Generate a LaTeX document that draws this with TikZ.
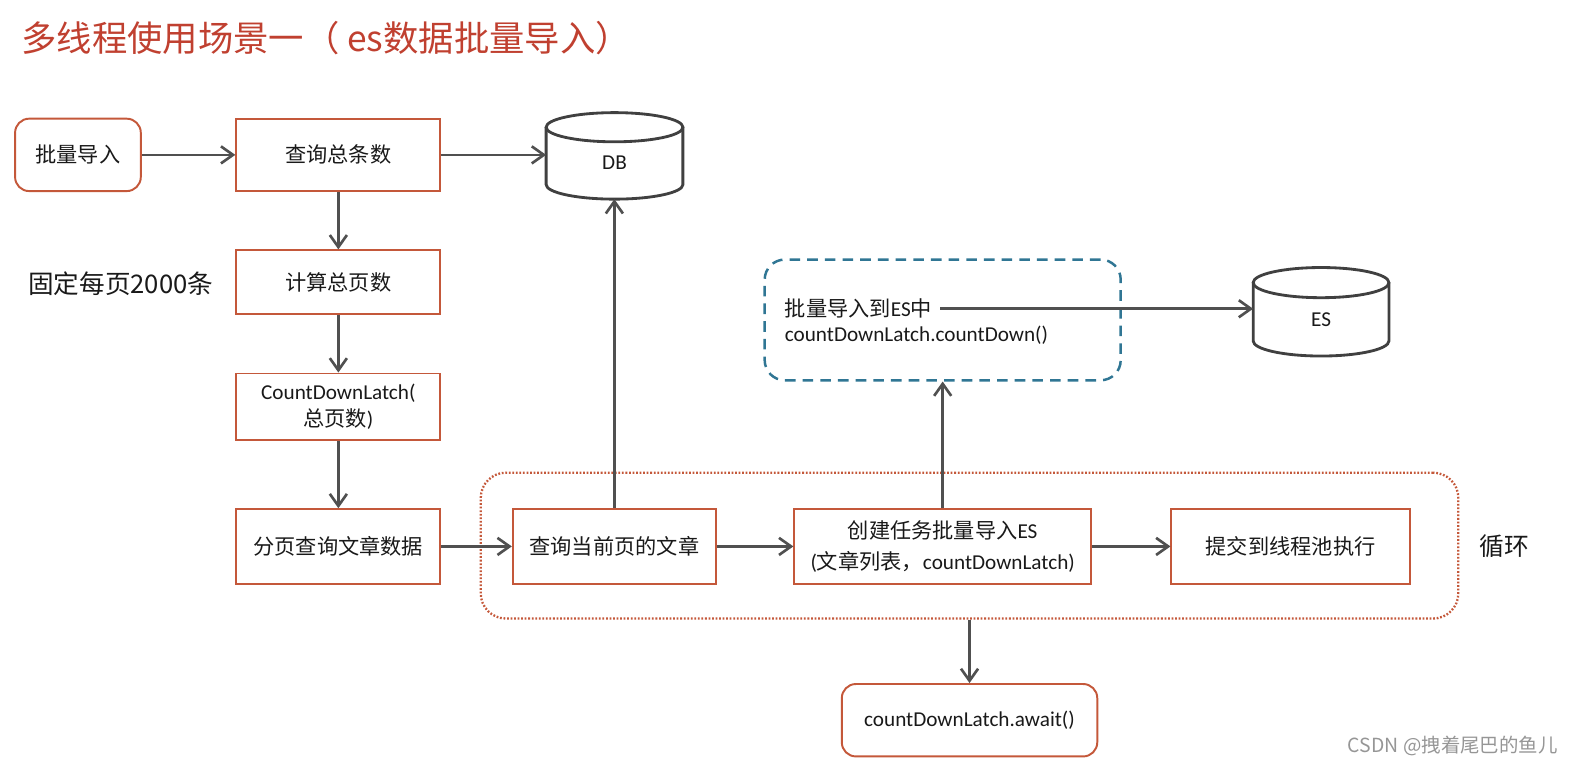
\documentclass[tikz,border=0pt]{standalone}
\usepackage{fontspec}
\setmainfont{Carlito}
\newfontfamily\cjk{Noto Sans CJK SC}
\definecolor{TitleRed}{RGB}{192,64,48}
\definecolor{BoxRed}{RGB}{196,88,58}
\definecolor{LinkGray}{RGB}{80,80,80}
\definecolor{StoreGray}{RGB}{64,64,64}
\definecolor{DashTeal}{RGB}{48,118,148}
\definecolor{MarkGray}{RGB}{150,150,150}
\usetikzlibrary{positioning,arrows.meta}

\begin{document}
\begin{tikzpicture}[
      every node/.style={font=\fontsize{12}{15}\selectfont, align=center, text=black!90},
      stepbox/.style={draw=BoxRed, line width=1.1pt, minimum width=40.6mm,
                      minimum height=14.4mm, inner sep=2pt},
      endbox/.style={stepbox, rounded corners=2.8mm},
      store/.style={minimum width=27.2mm, minimum height=14.3mm, inner sep=0pt, outer sep=0pt},
      cyl/.style={draw=StoreGray, line width=1.6pt},
      looparea/.style={draw=BoxRed, line width=1.3pt, dash pattern=on 1pt off 1pt,
                       rounded corners=5mm, minimum width=194.4mm, minimum height=29mm},
      esarea/.style={draw=DashTeal, line width=1.4pt, dash pattern=on 6pt off 4pt,
                     rounded corners=4mm, minimum width=70.8mm, minimum height=24mm},
      arr/.style={-{Straight Barb[length=2.4mm,width=3.4mm]}, draw=LinkGray, line width=1.5pt}
  ]
    \useasboundingbox (0,0) rectangle (31.36,-15.22);
    \node[anchor=west, text=TitleRed, font=\cjk\fontsize{20}{24}\selectfont] (title) at (0.30,-0.76) {多线程使用场景一（ es数据批量导入）};
    \node[endbox, minimum width=25mm] (import) at (1.55,-3.08) {\cjk 批量导入};
    \node[stepbox, right=18.6mm of import] (total) {\cjk 查询总条数};
    \node[store] (db) at (12.22,-3.245) {DB};
    \node[stepbox, below=11.4mm of total, minimum height=12.6mm] (pages) {\cjk 计算总页数};
    \node[font=\cjk\fontsize{14.5}{17}\selectfont] (fixed) at (2.40,-5.64) {固定每页2000条};
    \node[stepbox, below=11.5mm of pages, minimum height=13.2mm] (latch) {CountDownLatch(\\{\cjk 总页数})};
    \node[stepbox, below=13.4mm of latch, minimum height=14.8mm] (paging) {\cjk 分页查询文章数据};
    \node[stepbox, right=14mm of paging, minimum width=40.4mm, minimum height=14.8mm] (cur) {\cjk 查询当前页的文章};
    \node[stepbox, right=15.2mm of cur, minimum width=59mm, minimum height=14.8mm,
          font=\fontsize{12}{17.5}\selectfont] (task) {{\cjk 创建任务批量导入}ES\\({\cjk 文章列表，}countDownLatch)};
    \node[stepbox, right=15.6mm of task, minimum width=47.4mm, minimum height=14.8mm] (submit) {\cjk 提交到线程池执行};
    \node[looparea] (loop) at (19.28,-10.85) {};
    \node[font=\cjk\fontsize{14}{17}\selectfont] (looplabel) at (29.92,-10.86) {循环};
    \node[endbox, below=12.6mm of loop, minimum width=50.8mm] (await) {countDownLatch.await()};
    \node[esarea, above=25.2mm of task] (esbox) {};
    \node[anchor=west, inner sep=0pt] (tobulk) at (15.60,-6.14) {{\cjk 批量导入到}ES{\cjk 中}};
    \node[anchor=west, inner sep=0pt] (countdown) at (15.60,-6.66) {countDownLatch.countDown()};
    \node[store, minimum width=27mm, minimum height=14.6mm] (es) at (26.27,-6.35) {ES};
    \node[anchor=east, text=MarkGray, font=\cjk\fontsize{11}{13}\selectfont] (mark) at (31.10,-14.84) {CSDN @拽着尾巴的鱼儿};
    \draw[cyl] (db.north) ellipse [x radius=13.6mm, y radius=2.9mm];
    \draw[cyl] (db.north west) -- ([yshift=2.9mm]db.south west)
      arc[start angle=180, end angle=360, x radius=13.6mm, y radius=2.9mm] -- (db.north east);
    \draw[cyl] (es.north) ellipse [x radius=13.5mm, y radius=3mm];
    \draw[cyl] (es.north west) -- ([yshift=3mm]es.south west)
      arc[start angle=180, end angle=360, x radius=13.5mm, y radius=3mm] -- (es.north east);
    \draw[arr] (import) -- (total);
    \draw[arr] (total) -- (total -| db.west);
    \draw[arr] (total) -- (pages);
    \draw[arr] (pages) -- (latch);
    \draw[arr] (latch) -- (paging);
    \draw[arr] (paging) -- (cur);
    \draw[arr] (cur) -- (task);
    \draw[arr] (task) -- (submit);
    \draw[arr] (cur.north) -- (cur.north |- db.south);
    \draw[arr] (task.north) -- (task.north |- esbox.south);
    \draw[arr] ([xshift=1.6mm]tobulk.east) -- (tobulk -| es.west);
    \draw[arr] (loop) -- (await);
  \end{tikzpicture}
\end{document}
